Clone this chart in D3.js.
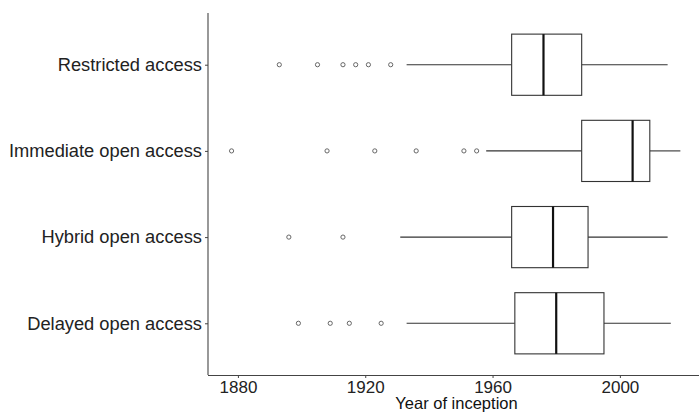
<!DOCTYPE html>
<html><head><meta charset="utf-8">
<script src="https://cdn.jsdelivr.net/npm/d3@7"></script>
<style>body{margin:0;background:#fff;} svg{display:block;font-family:"Liberation Sans",Arial,sans-serif;}</style>
</head><body>
<svg id="chart" width="699" height="412"></svg>
<script>
const categories = ["Restricted access","Immediate open access","Hybrid open access","Delayed open access"];
const q1 = [1966, 1988, 1966, 1967];
const medians = [1976, 2004, 1979, 1980];
const q3 = [1988, 2009.4, 1990, 1995];
const whiskerLow = [1933, 1958, 1931, 1933];
const whiskerHigh = [2015, 2019, 2015, 2016];
const outliers = [
  [1893, 1905, 1913, 1917, 1921, 1928],
  [1878, 1908, 1923, 1936, 1951, 1955],
  [1896, 1913],
  [1899, 1909, 1915, 1925]
];
const xTicks = [1880, 1920, 1960, 2000];
const xTitle = "Year of inception";

(function(){
const svg = d3.select("#chart");
const pLeft = 208, pTop = 13, pBottom = 375;
const x = d3.scaleLinear().domain([1870.6, 2027.4]).range([pLeft, pLeft + (2027.4-1870.6)*3.183]);
const y = d3.scalePoint().domain(categories).range([pTop, pBottom]).padding(0.6);
const step = y.step();
const boxH = step * 0.71;

const g = svg.append("g");
categories.forEach((c, i) => {
  const cy = y(c);
  g.append("line").attr("x1", x(whiskerLow[i])).attr("x2", x(q1[i])).attr("y1", cy).attr("y2", cy)
    .attr("stroke", "#333").attr("stroke-width", 1.1);
  g.append("line").attr("x1", x(q3[i])).attr("x2", x(whiskerHigh[i])).attr("y1", cy).attr("y2", cy)
    .attr("stroke", "#333").attr("stroke-width", 1.1);
  g.append("rect").attr("x", x(q1[i])).attr("width", x(q3[i]) - x(q1[i]))
    .attr("y", cy - boxH/2).attr("height", boxH)
    .attr("fill", "#fff").attr("stroke", "#333").attr("stroke-width", 1.1);
  g.append("line").attr("x1", x(medians[i])).attr("x2", x(medians[i]))
    .attr("y1", cy - boxH/2).attr("y2", cy + boxH/2)
    .attr("stroke", "#111").attr("stroke-width", 2.2);
  g.selectAll(null).data(outliers[i]).enter().append("circle")
    .attr("cx", d => x(d)).attr("cy", cy).attr("r", 2.1)
    .attr("fill", "none").attr("stroke", "#666").attr("stroke-width", 1);
});

const xAxis = svg.append("g").attr("transform", `translate(0,${pBottom})`)
  .call(d3.axisBottom(x).tickValues(xTicks).tickFormat(d3.format("d")).tickSize(3).tickPadding(3));
const yAxis = svg.append("g").attr("transform", `translate(${pLeft},0)`)
  .call(d3.axisLeft(y).tickSize(3).tickPadding(3));
[xAxis, yAxis].forEach(a => {
  a.select(".domain").attr("stroke", "#444").attr("stroke-width", 1.1);
  a.selectAll(".tick line").attr("stroke", "#444");
  a.selectAll("text").attr("fill", "#222")
    .style("font-family", '"Liberation Sans", Arial, sans-serif');
});
xAxis.selectAll("text").style("font-size", "17px");
yAxis.selectAll("text").style("font-size", "18.3px");
xAxis.select(".domain").attr("d", `M${pLeft},0.5H${x(2027.4)}`);
yAxis.select(".domain").attr("d", `M0,${pTop}V${pBottom}`);

svg.append("text").attr("x", (pLeft + 705)/2).attr("y", 409)
  .attr("text-anchor", "middle").attr("fill", "#111")
  .style("font-size", "16.5px").text(xTitle);
})();
</script>
</body></html>
